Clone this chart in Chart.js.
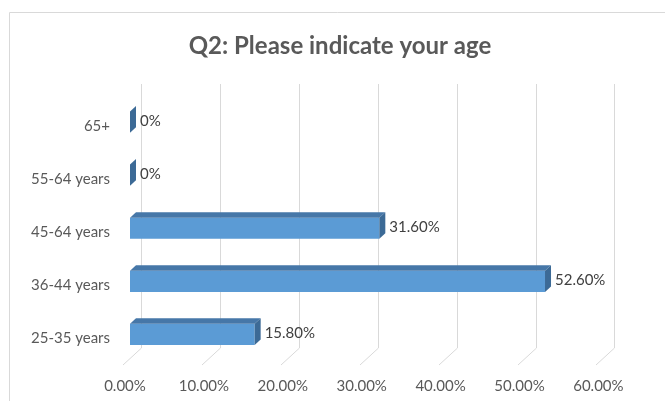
<!DOCTYPE html>
<html>
<head>
<meta charset="utf-8">
<script src="https://cdn.jsdelivr.net/npm/chart.js@4/dist/chart.umd.min.js"></script>
<style>
  html, body { margin: 0; padding: 0; background: #ffffff; }
  #wrap { width: 665px; height: 401px; position: relative; }
</style>
</head>
<body>
<div id="wrap"><canvas id="chart" width="665" height="401"></canvas></div>
<script>
// Age groups, listed top to bottom
const categories = ['65+', '55-64 years', '45-64 years', '36-44 years', '25-35 years'];
// Share of respondents, in percent
const shares = [0, 0, 31.6, 52.6, 15.8];
// Value axis ticks, in percent
const axisTicks = [0, 10, 20, 30, 40, 50, 60];

const titleText = 'Q2: Please indicate your age';
const FONT = 'Lato, "Open Sans", sans-serif';

function fmtPct(v) {
  return v === 0 ? '0%' : v.toFixed(2) + '%';
}

// 3D depth of the bars (towards the back wall)
const DEPTH_X = 6, DEPTH_Y = -5.5;

const decor = {
  id: 'decor',
  beforeDraw(chart) {
    const ctx = chart.ctx;
    const xs = chart.scales.x;
    const area = chart.chartArea;
    ctx.save();
    // outer frame
    ctx.strokeStyle = '#d9d9d9';
    ctx.lineWidth = 1;
    ctx.beginPath();
    ctx.moveTo(9.5, chart.height);
    ctx.lineTo(9.5, 12.5);
    ctx.lineTo(chart.width, 12.5);
    ctx.stroke();

    // title
    ctx.fillStyle = '#595959';
    ctx.font = 'bold 24px ' + FONT;
    ctx.textAlign = 'center';
    ctx.textBaseline = 'alphabetic';
    ctx.fillText(titleText, 340, 54);

    // back-wall gridlines that bend onto the floor
    ctx.strokeStyle = '#d9d9d9';
    ctx.lineWidth = 1;
    const wallTop = area.top - 11.5;
    const floorBack = area.bottom - 13;
    const floorFront = area.bottom + 4;
    axisTicks.forEach(t => {
      const px = Math.round(xs.getPixelForValue(t));
      ctx.beginPath();
      ctx.moveTo(px + 11.5, wallTop);
      ctx.lineTo(px + 11.5, floorBack);
      ctx.lineTo(px - 7, floorFront);
      ctx.stroke();
    });
    ctx.restore();
  },
  afterDatasetsDraw(chart) {
    const ctx = chart.ctx;
    const meta = chart.getDatasetMeta(0);
    ctx.save();
    meta.data.forEach((bar, i) => {
      const p = bar.getProps(['x', 'y', 'base', 'height'], true);
      const left = p.base, right = p.x;
      const top = p.y - p.height / 2, bottom = p.y + p.height / 2;
      // top face
      if (right - left > 0.5) {
        ctx.fillStyle = '#4677A8';
        ctx.beginPath();
        ctx.moveTo(left, top);
        ctx.lineTo(right, top);
        ctx.lineTo(right + DEPTH_X, top + DEPTH_Y);
        ctx.lineTo(left + DEPTH_X, top + DEPTH_Y);
        ctx.closePath();
        ctx.fill();
      }
      // end face
      ctx.fillStyle = '#3C6A96';
      ctx.beginPath();
      ctx.moveTo(right, top);
      ctx.lineTo(right + DEPTH_X, top + DEPTH_Y);
      ctx.lineTo(right + DEPTH_X, bottom + DEPTH_Y);
      ctx.lineTo(right, bottom);
      ctx.closePath();
      ctx.fill();

      // value label
      ctx.fillStyle = '#404040';
      ctx.font = '15px ' + FONT;
      ctx.textAlign = 'left';
      ctx.textBaseline = 'middle';
      ctx.fillText(fmtPct(shares[i]), right + 10, p.y - 1);
    });
    ctx.restore();
  }
};

new Chart(document.getElementById('chart'), {
  type: 'bar',
  data: {
    labels: categories,
    datasets: [{
      data: shares,
      backgroundColor: '#5B9BD5',
      borderWidth: 0,
      barPercentage: 0.4,
      categoryPercentage: 1.0
    }]
  },
  options: {
    indexAxis: 'y',
    responsive: false,
    animation: false,
    devicePixelRatio: 1,
    layout: { padding: { top: 95.5, right: 61.6, bottom: 0, left: 0 } },
    plugins: {
      legend: { display: false },
      title: { display: false },
      tooltip: { enabled: false }
    },
    scales: {
      x: {
        min: 0,
        max: 60,
        afterBuildTicks(scale) { scale.ticks = axisTicks.map(v => ({ value: v })); },
        afterFit(scale) { scale.height = 40; },
        grid: { display: false, drawTicks: false },
        border: { display: false },
        ticks: {
          callback: v => v.toFixed(2) + '%',
          color: '#595959',
          font: { family: FONT, size: 15 },
          padding: 16,
          labelOffset: -5,
          maxRotation: 0,
          autoSkip: false
        }
      },
      y: {
        afterFit(scale) { scale.width = 130; },
        grid: { display: false, drawTicks: false },
        border: { display: false },
        ticks: {
          color: '#595959',
          font: { family: FONT, size: 15 },
          padding: 20,
          labelOffset: 4
        }
      }
    }
  },
  plugins: [decor]
});
</script>
</body>
</html>
